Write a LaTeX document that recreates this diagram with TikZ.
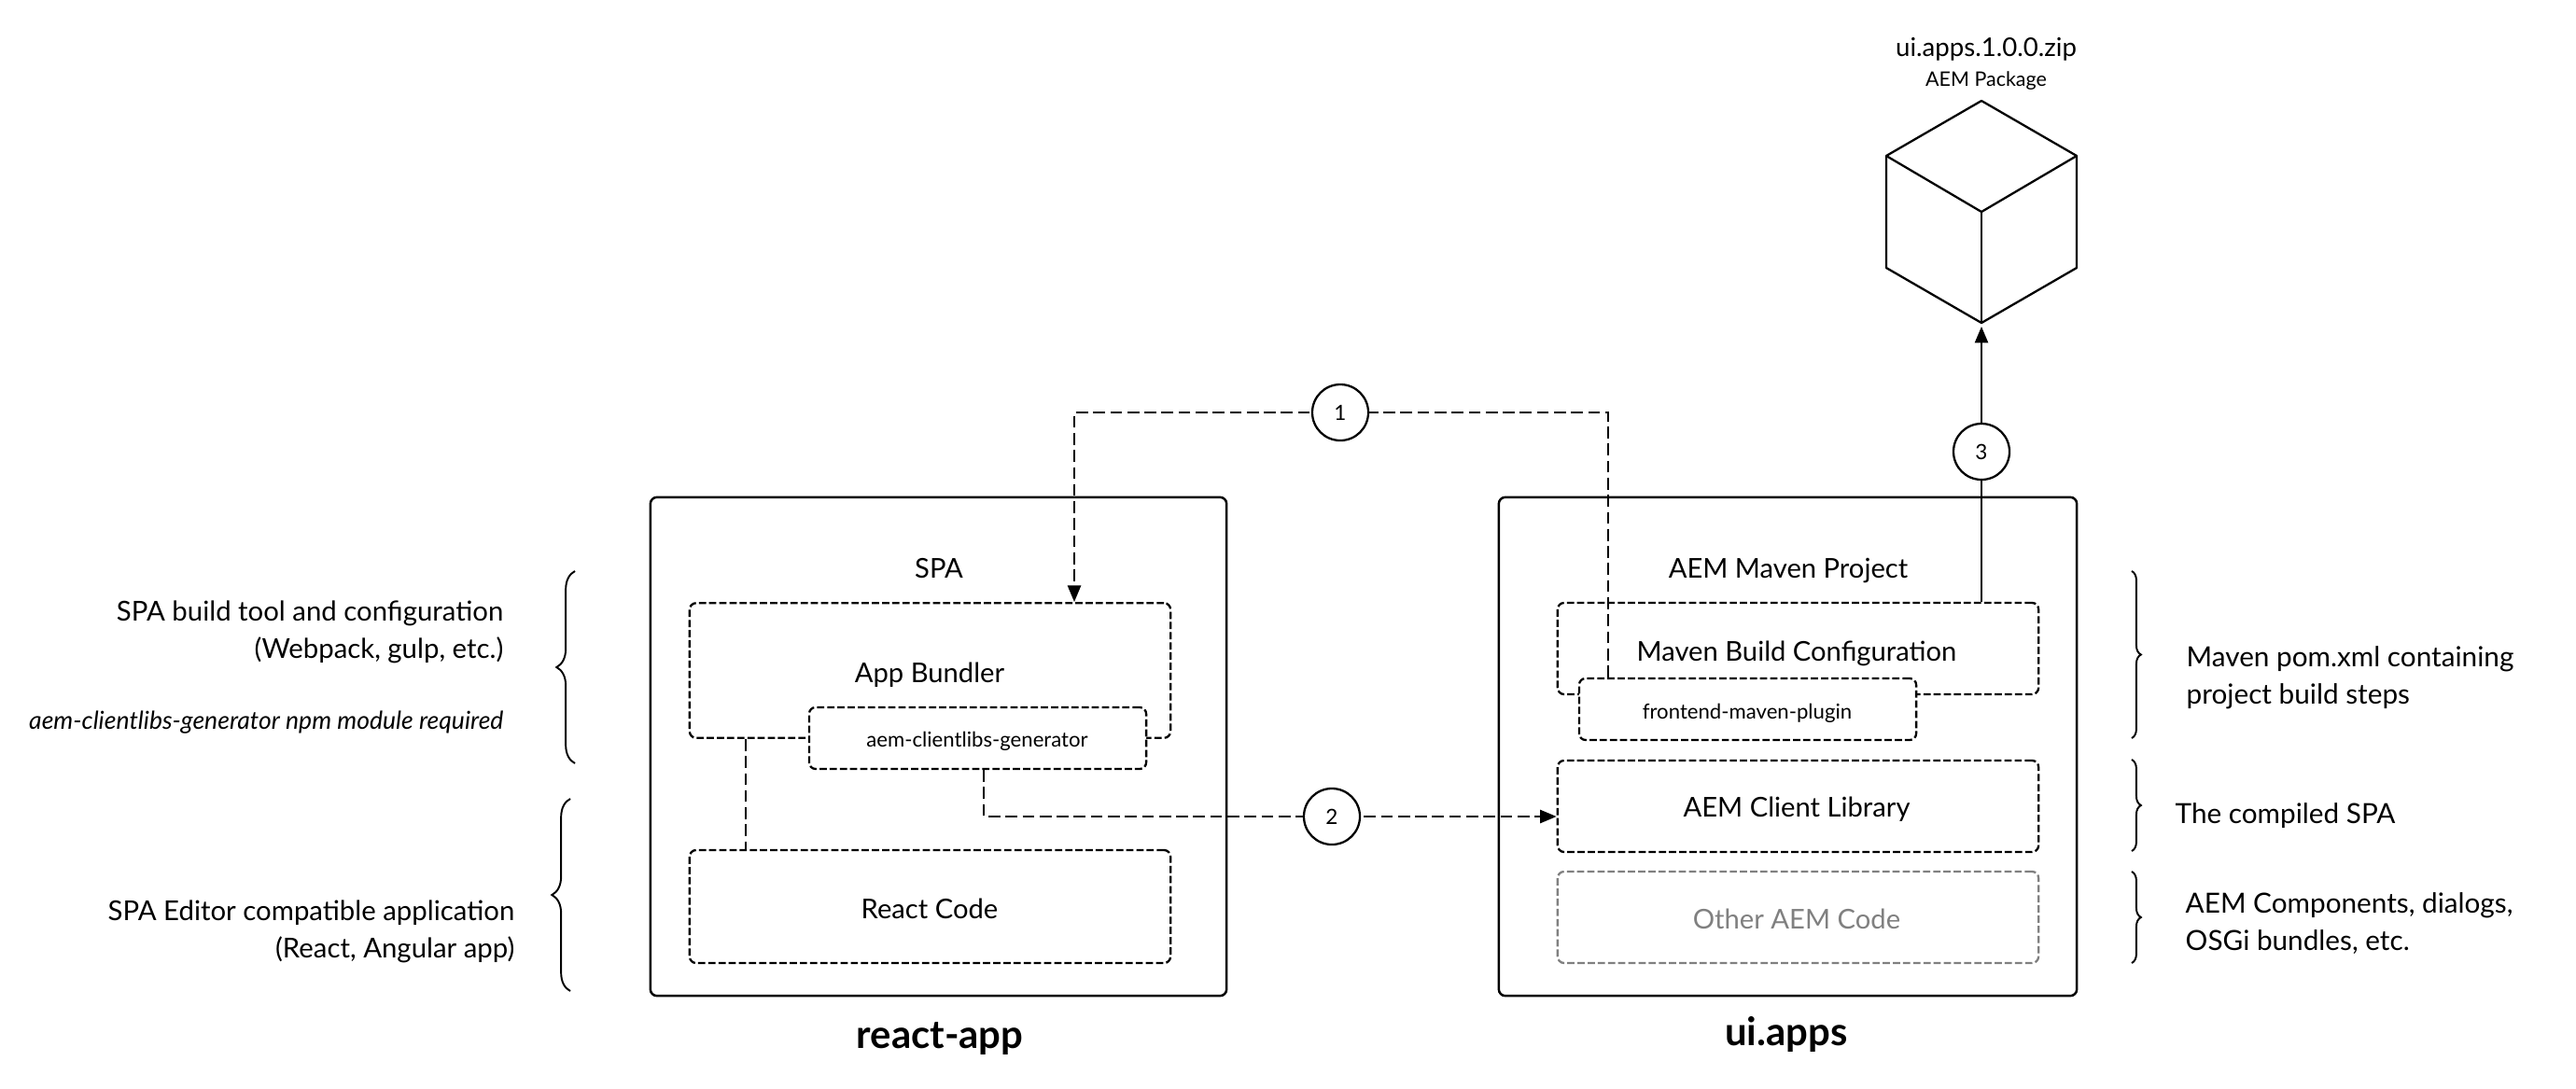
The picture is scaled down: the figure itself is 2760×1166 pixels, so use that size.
\documentclass[tikz,border=0pt]{standalone}
\usepackage{fontspec}
\setmainfont{Lato}
\usetikzlibrary{arrows.meta,positioning,calc,decorations.pathreplacing}
\begin{document}
\begin{tikzpicture}[
  x=0.01cm, y=-0.01cm,
  outerbox/.style={draw=black, line width=0.7pt, rounded corners=2pt, inner sep=0pt},
  innerbox/.style={draw=black, fill=white, line width=0.65pt, rounded corners=2pt, inner sep=0pt, dash pattern=on 2.2pt off 0.9pt},
  greybox/.style={innerbox, draw=black!50},
  lab/.style={anchor=base, font=\fontsize{8.3}{11.4}\selectfont, inner sep=0pt},
  smalllab/.style={anchor=base, font=\fontsize{6.3}{8}\selectfont, inner sep=0pt},
  titlelab/.style={anchor=base, font=\fontsize{11.9}{14}\selectfont\bfseries, inner sep=0pt},
  note/.style={font=\fontsize{8.45}{11.4}\selectfont, inner sep=0pt},
  leftnote/.style={note, font=\fontsize{8.35}{11.4}\selectfont, align=right, anchor=east},
  stepnum/.style={circle, draw=black, fill=white, line width=0.65pt, minimum size=0.6cm, inner sep=0pt, font=\fontsize{6.4}{8}\selectfont},
  flow/.style={line width=0.65pt, dash pattern=on 3.6pt off 1.6pt},
  solidflow/.style={line width=0.65pt},
  tip/.style={-{Triangle[length=5pt,width=4pt]}},
  curly/.style={decorate, line width=0.55pt, decoration={brace, amplitude=#1}}
]
\useasboundingbox (0,0) rectangle (2760,1166);

% react-app side
\node[outerbox, minimum width=6.17cm, minimum height=5.34cm] (spa) at (1005.5,800) {};
\node[innerbox, minimum width=5.15cm, minimum height=1.445cm] (bundler) at (996.5,718.5) {};
\node[innerbox, minimum width=3.61cm, minimum height=0.66cm] (generator) at (1047.5,791) {};
\node[innerbox, minimum width=5.15cm, minimum height=1.21cm] (react) at (996.5,971.5) {};
\node[lab] (spalab) at (1006,619) {SPA};
\node[lab] (bundlerlab) at (996,731) {App Bundler};
\node[smalllab] (generatorlab) at (1047,800) {aem-clientlibs-generator};
\node[lab] (reactlab) at (996,984) {React Code};
\node[titlelab] (spatitle) at (1007,1123) {react-app};

% ui.apps side
\node[outerbox, minimum width=6.19cm, minimum height=5.34cm] (project) at (1915.5,800) {};
\node[innerbox, minimum width=5.15cm, minimum height=0.98cm] (maven) at (1926.5,695) {};
\node[innerbox, minimum width=3.61cm, minimum height=0.66cm] (plugin) at (1872.5,760) {};
\node[innerbox, minimum width=5.15cm, minimum height=0.98cm] (clientlib) at (1926.5,864) {};
\node[greybox, minimum width=5.15cm, minimum height=0.98cm] (other) at (1926.5,983) {};
\node[lab] (projectlab) at (1916,619) {AEM Maven Project};
\node[lab] (mavenlab) at (1925,708) {Maven Build Configuration};
\node[smalllab] (pluginlab) at (1872,770) {frontend-maven-plugin};
\node[lab] (clientliblab) at (1925,875) {AEM Client Library};
\node[lab, text=black!50] (otherlab) at (1925,995) {Other AEM Code};
\node[titlelab] (projecttitle) at (1914,1120) {ui.apps};

% package cube
\coordinate (ctop) at (2123,108);
\coordinate (cleft) at (2021,167);
\coordinate (cright) at (2225,167);
\coordinate (cmid) at (2123,227);
\coordinate (clowl) at (2021,287);
\coordinate (clowr) at (2225,287);
\coordinate (cbot) at (2123,346);
\draw[solidflow, line join=round] (ctop) -- (cright) -- (clowr) -- (cbot) -- (clowl) -- (cleft) -- cycle;
\draw[solidflow, line join=round] (cleft) -- (cmid) -- (cright);
\draw[solidflow] (cmid) -- (cbot);
\node[lab, font=\fontsize{7.85}{10}\selectfont] (ziplab) at (2128,60) {ui.apps.1.0.0.zip};
\node[smalllab, font=\fontsize{6.1}{8}\selectfont] (pkglab) at (2128,92) {AEM Package};

% connectors
\coordinate (bend1l) at (1151,442);
\coordinate (bend1r) at (1723,442);
\coordinate (bend2a) at (1054,875);
\draw[flow, tip] (plugin.north -| bend1r) -- (bend1r) -- (bend1l) -- (bundler.north -| bend1l);
\draw[flow, tip] (generator.south -| bend2a) -- (bend2a) -- (clientlib.west |- bend2a);
\coordinate (linkx) at (799,850);
\draw[flow] (bundler.south -| linkx) -- (react.north -| linkx);
\draw[solidflow, tip, shorten >=1.1pt] (maven.north -| cbot) -- (cbot);
\node[stepnum] (n1) at (1436,442) {\raisebox{-1.1pt}{1}};
\node[stepnum] (n2) at (1427,875) {\raisebox{-1.1pt}{2}};
\node[stepnum] (n3) at (2123,484) {\raisebox{-1.1pt}{3}};

% left notes
\coordinate (bl1a) at (616,818); \coordinate (bl1b) at (616,612);
\coordinate (bl2a) at (611,1062); \coordinate (bl2b) at (611,856);
\draw[curly=5.6pt] (bl1a) -- (bl1b);
\draw[curly=5.6pt] (bl2a) -- (bl2b);
\node[leftnote] (toolnote) at (540,677) {SPA build tool and configuration\\(Webpack, gulp, etc.)};
\node[note, anchor=base east, font=\fontsize{7.55}{9}\selectfont\itshape] (modnote) at (540,781) {aem-clientlibs-generator npm module required};
\node[leftnote] (appnote) at (552,998) {SPA Editor compatible application\\(React, Angular app)};

% right notes
\coordinate (br1a) at (2284,612); \coordinate (br1b) at (2284,791);
\coordinate (br2a) at (2284,814); \coordinate (br2b) at (2284,912);
\coordinate (br3a) at (2284,934); \coordinate (br3b) at (2284,1032);
\draw[curly=2.8pt] (br1a) -- (br1b);
\draw[curly=2.8pt] (br2a) -- (br2b);
\draw[curly=2.8pt] (br3a) -- (br3b);
\node[note, align=left, anchor=west] (pomnote) at (2342,726) {Maven pom.xml containing\\project build steps};
\node[note, anchor=base west] (compnote) at (2330,882) {The compiled SPA};
\node[note, align=left, anchor=west] (aemnote) at (2341,990) {AEM Components, dialogs,\\OSGi bundles, etc.};
\end{tikzpicture}
\end{document}
